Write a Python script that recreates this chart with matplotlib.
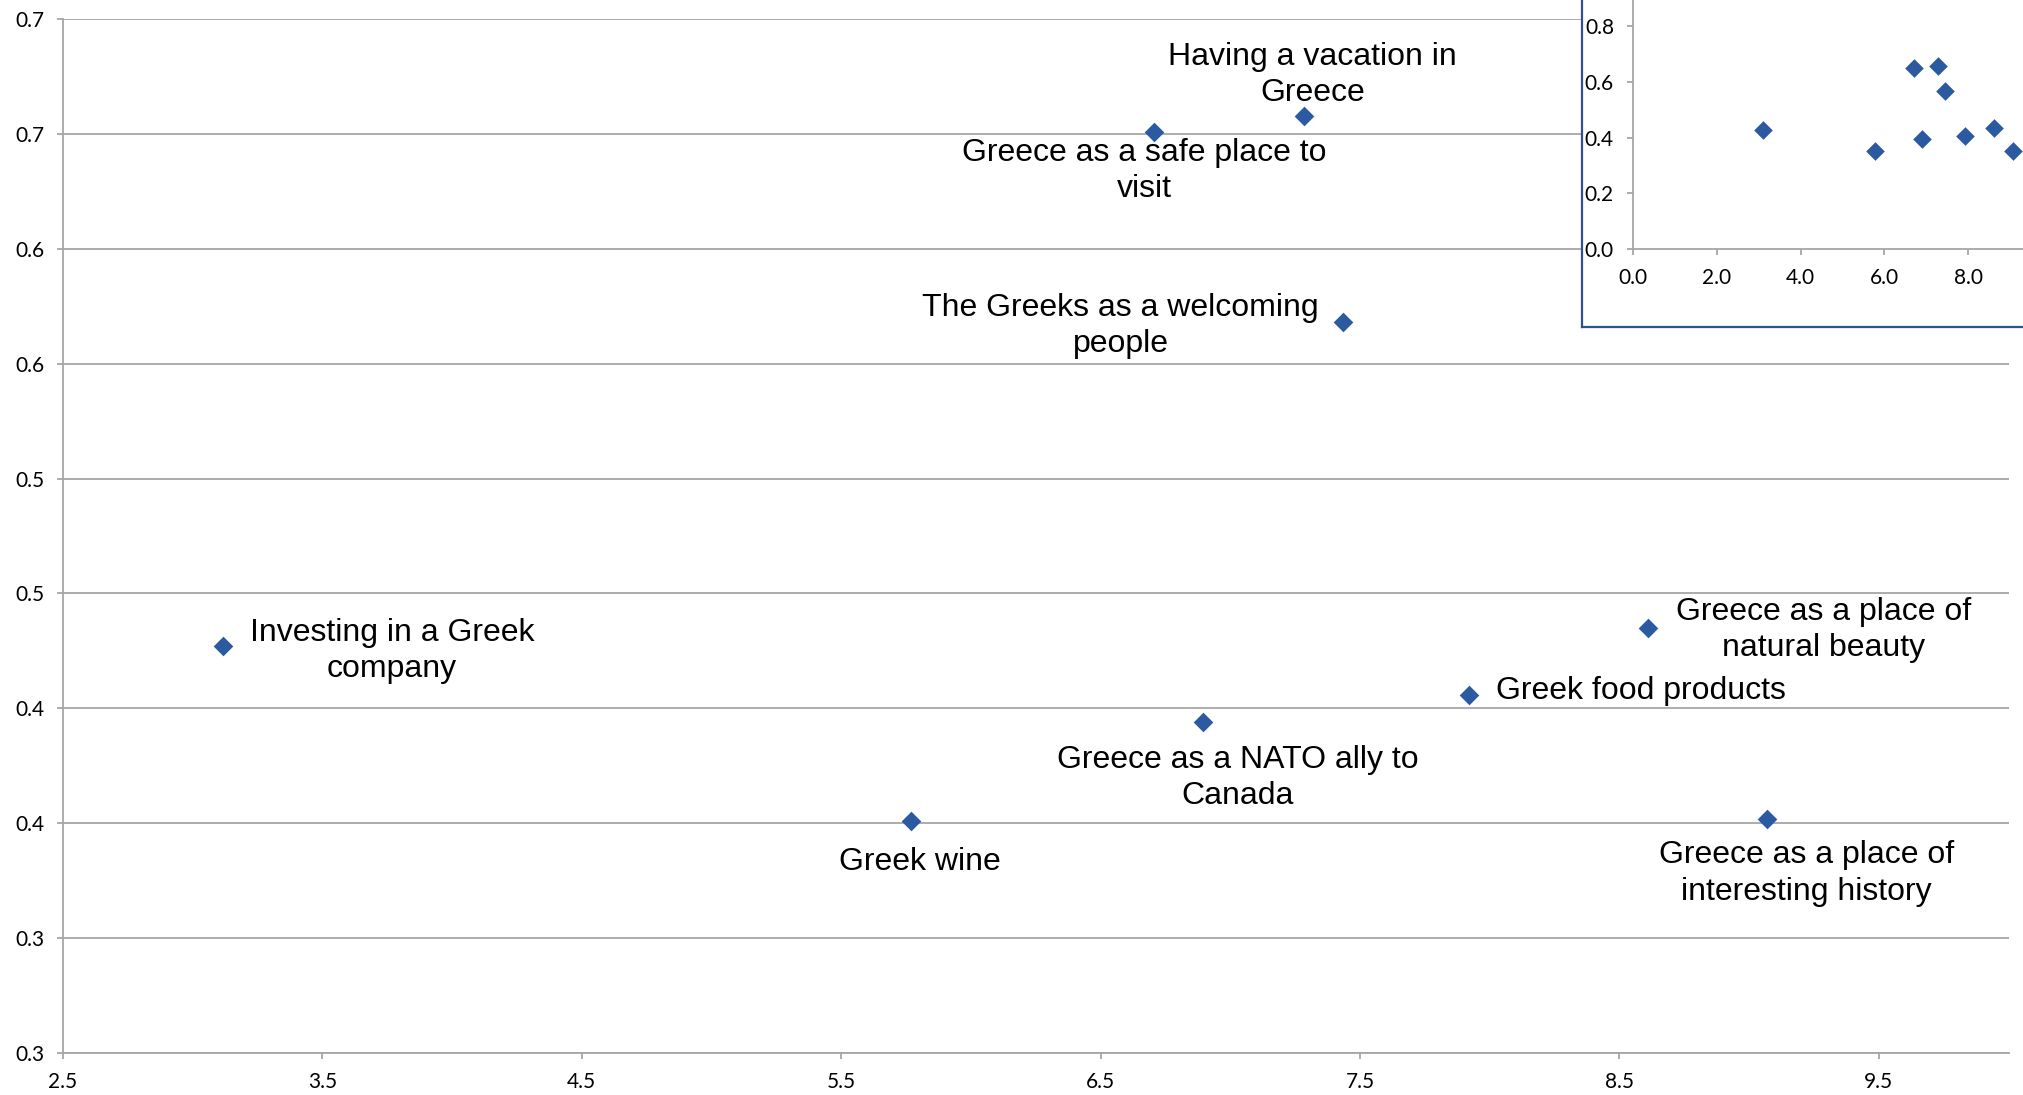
import math
import numpy as np
import matplotlib
matplotlib.use('Agg')
import matplotlib.pyplot as plt
from matplotlib.ticker import FuncFormatter, MultipleLocator

# Scores per item: x = rating, y = share
labels = ['Investing in a Greek\ncompany',
          'Greek wine',
          'Greece as a NATO ally to\nCanada',
          'Greek food products',
          'Greece as a place of\nnatural beauty',
          'Greece as a place of\ninteresting history',
          'The Greeks as a welcoming\npeople',
          'Greece as a safe place to\nvisit',
          'Having a vacation in\nGreece']
x_vals = [3.115, 5.77, 6.895, 7.92, 8.61, 9.07, 7.435, 6.705, 7.285]
y_vals = [0.427, 0.351, 0.394, 0.406, 0.435, 0.352, 0.568, 0.651, 0.658]

# label placement: offset in points, horizontal alignment
label_pos = [((19.5, -3.5), 'left'),
             ((6.5, -29.5), 'center'),
             ((25, -40), 'center'),
             ((19.5, 2.5), 'left'),
             ((20.5, -1.5), 'left'),
             ((28, -39.5), 'center'),
             ((-17.5, -2.5), 'right'),
             ((-6.5, -28.5), 'center'),
             ((6, 29), 'center')]

blue = '#2C5AA0'
grey = '#A6A6A6'
tick_font = 'Lato'
label_font = 'Liberation Sans'


def half_up(v, pos):
    return f"{math.floor(v * 10 + 0.5 + 1e-9) / 10:.1f}"


W, H = 2023, 1095
fig = plt.figure(figsize=(W / 100, H / 100), dpi=100)

# main scatter
ax = fig.add_axes([63 / W, 1 - 1053 / H, (2008.5 - 63) / W, (1053 - 19) / H])
ax.scatter(x_vals, y_vals, marker='D', s=100, color=blue, linewidths=0, zorder=3)
ax.set_xlim(2.5, 10.0)
ax.set_ylim(0.25, 0.70)
ax.set_xticks(np.arange(2.5, 10.0, 1.0))
ax.yaxis.set_major_locator(MultipleLocator(0.05))
ax.yaxis.set_major_formatter(FuncFormatter(half_up))
ax.xaxis.set_major_formatter(FuncFormatter(lambda v, p: f"{v:.1f}"))
ax.grid(axis='y', color=grey, linewidth=1.3)
ax.set_axisbelow(True)
for s in ['top', 'right']:
    ax.spines[s].set_visible(False)
for s in ['left', 'bottom']:
    ax.spines[s].set_color(grey)
    ax.spines[s].set_linewidth(1.3)
ax.tick_params(length=4.5, width=1.3, color=grey, pad=9, labelsize=15)
for t in ax.get_xticklabels() + ax.get_yticklabels():
    t.set_fontfamily(tick_font)

for lab, xv, yv, (off, ha) in zip(labels, x_vals, y_vals, label_pos):
    ax.annotate(lab, (xv, yv), xytext=off, textcoords='offset points',
                ha=ha, va='center', multialignment='center', linespacing=1.27,
                fontsize=23, family=label_font, color='black')

# small overview chart in the top right corner
frame = fig.add_axes([1582 / W, 1 - 327 / H, 0.3, 0.4])
frame.set_xticks([])
frame.set_yticks([])
for s in frame.spines.values():
    s.set_color('#2F528F')
    s.set_linewidth(1.6)
frame.set_facecolor('white')
frame.set_zorder(2)

ins = fig.add_axes([1632.7 / W, 1 - 249 / H, 419.6 / W, 278.75 / H])
ins.set_zorder(3)
ins.patch.set_alpha(0)
ins.scatter(x_vals, y_vals, marker='D', s=90, color=blue, linewidths=0, clip_on=False)
ins.set_xlim(0, 10)
ins.set_ylim(0, 1.0)
ins.set_xticks(np.arange(0, 8.1, 2.0))
ins.set_yticks(np.arange(0, 0.81, 0.2))
ins.xaxis.set_major_formatter(FuncFormatter(lambda v, p: f"{v:.1f}"))
ins.yaxis.set_major_formatter(FuncFormatter(lambda v, p: f"{v:.1f}"))
for s in ['top', 'right']:
    ins.spines[s].set_visible(False)
for s in ['left', 'bottom']:
    ins.spines[s].set_color(grey)
    ins.spines[s].set_linewidth(1.3)
ins.tick_params(length=4.5, width=1.3, color=grey, pad=9, labelsize=15)
for t in ins.get_xticklabels() + ins.get_yticklabels():
    t.set_fontfamily(tick_font)

fig.savefig('out.png', dpi=100)
